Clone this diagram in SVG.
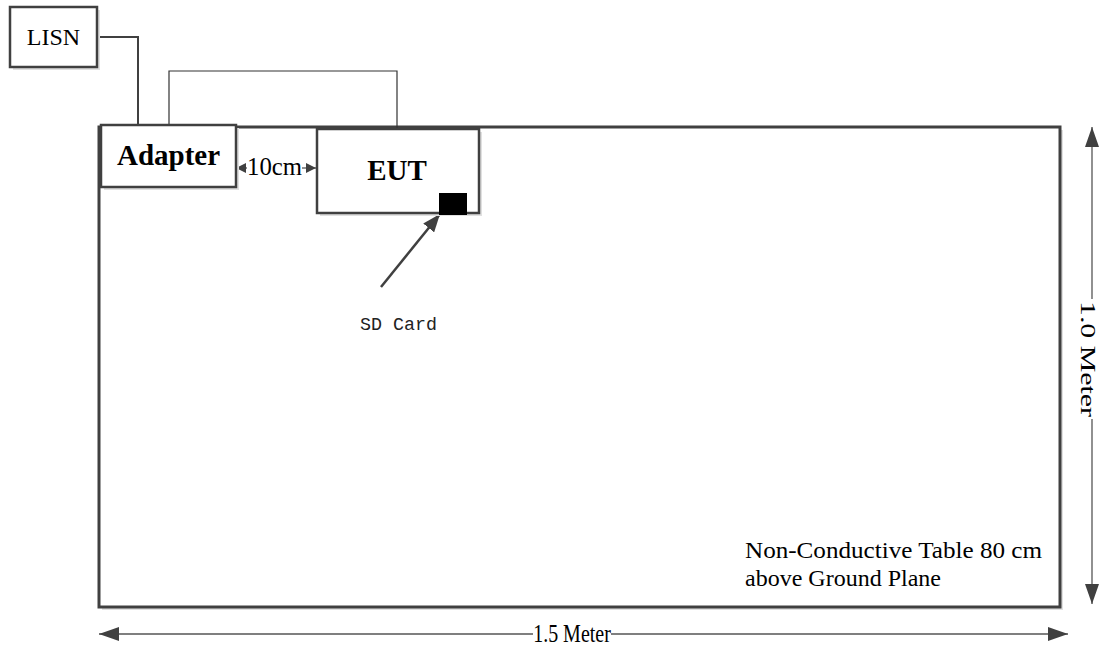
<svg xmlns="http://www.w3.org/2000/svg" width="1101" height="650" viewBox="0 0 1101 650">
<defs>
<style>
.box{fill:#fff;stroke:#404040;stroke-width:2.5}
.shadow{fill:#e0e0e0;stroke:none}
.wire{fill:none;stroke:#404040;stroke-width:2}
.thin{fill:none;stroke:#333;stroke-width:1.2}
.dim{fill:none;stroke:#555;stroke-width:1.3}
.t{font-family:"Liberation Serif","Times New Roman",serif;fill:#000}
.b{font-weight:bold}
</style>
<marker id="ah" viewBox="0 0 10 10" refX="10" refY="5" markerWidth="10" markerHeight="10" markerUnits="userSpaceOnUse" orient="auto">
<path d="M0,0 L10,5 L0,10 z" fill="#404040"/>
</marker>
<marker id="big" viewBox="0 0 20 14" refX="20" refY="7" markerWidth="20" markerHeight="14" markerUnits="userSpaceOnUse" orient="auto">
<path d="M0,0 L20,7 L0,14 z" fill="#404040"/>
</marker>
<marker id="sd" viewBox="0 0 18 14" refX="18" refY="7" markerWidth="18" markerHeight="14" markerUnits="userSpaceOnUse" orient="auto">
<path d="M0,0 L18,7 L0,14 z" fill="#404040"/>
</marker>
</defs>
<rect width="1101" height="650" fill="#fff"/>

<g id="table">
<rect class="shadow" x="102" y="130" width="961" height="480"/>
<rect x="99" y="127" width="961" height="480" fill="#fff" stroke="#404040" stroke-width="3"/>
<text class="t" x="745" y="558" font-size="24" textLength="297" lengthAdjust="spacingAndGlyphs">Non-Conductive Table 80 cm</text>
<text class="t" x="745" y="586" font-size="24">above Ground Plane</text>
</g>

<g id="connectors">
<polyline class="wire" points="97,37 138,37 138,126"/>
<polyline class="thin" points="169,126 169,71 397,71 397,128"/>
<line class="dim" x1="247" y1="168" x2="236" y2="168" marker-end="url(#ah)"/>
<line class="dim" x1="302" y1="168" x2="316" y2="168" marker-end="url(#ah)"/>
<line x1="381" y1="287" x2="440" y2="214" stroke="#404040" stroke-width="2.5" marker-end="url(#sd)"/>
<line class="dim" x1="1092" y1="360" x2="1092" y2="127" marker-end="url(#big)"/>
<line class="dim" x1="1092" y1="360" x2="1092" y2="604" marker-end="url(#big)"/>
<line class="dim" x1="572" y1="634" x2="99" y2="634" marker-end="url(#big)"/>
<line class="dim" x1="572" y1="634" x2="1068" y2="634" marker-end="url(#big)"/>
</g>

<g id="lisn">
<rect class="shadow" x="13" y="10" width="87" height="60"/>
<rect class="box" x="10" y="7" width="87" height="60"/>
<text class="t" x="53.5" y="45" font-size="24" text-anchor="middle">LISN</text>
</g>

<g id="adapter">
<rect class="shadow" x="104" y="128" width="135" height="62"/>
<rect class="box" x="101" y="125" width="135" height="62"/>
<text class="t b" x="168.5" y="165" font-size="29" text-anchor="middle">Adapter</text>
</g>

<g id="gap-label">
<rect x="247" y="156" width="55" height="24" fill="#fff"/>
<text class="t" x="274.5" y="175" font-size="25" text-anchor="middle" textLength="55" lengthAdjust="spacingAndGlyphs">10cm</text>
</g>

<g id="eut">
<rect class="shadow" x="320" y="132" width="162" height="84"/>
<rect class="box" x="317" y="129" width="162" height="84"/>
<text class="t b" x="397" y="180" font-size="29" text-anchor="middle">EUT</text>
<rect x="439" y="193" width="28" height="22" fill="#000"/>
</g>

<g id="sdcard-label">
<text x="398.5" y="330" font-family="Liberation Mono, monospace" font-size="19" text-anchor="middle" fill="#222" textLength="77" lengthAdjust="spacingAndGlyphs">SD Card</text>
</g>

<g id="dim-labels">
<rect x="533" y="619" width="78" height="28" fill="#fff"/>
<text class="t" x="0" y="0" font-size="25" text-anchor="middle" transform="translate(572,642) scale(0.8,1)">1.5 Meter</text>
<rect x="1078" y="299" width="23" height="120" fill="#fff"/>
<text class="t" x="0" y="0" font-size="20" text-anchor="middle" textLength="116" lengthAdjust="spacingAndGlyphs" transform="translate(1081,359) rotate(90)">1.0 Meter</text>
</g>
</svg>
